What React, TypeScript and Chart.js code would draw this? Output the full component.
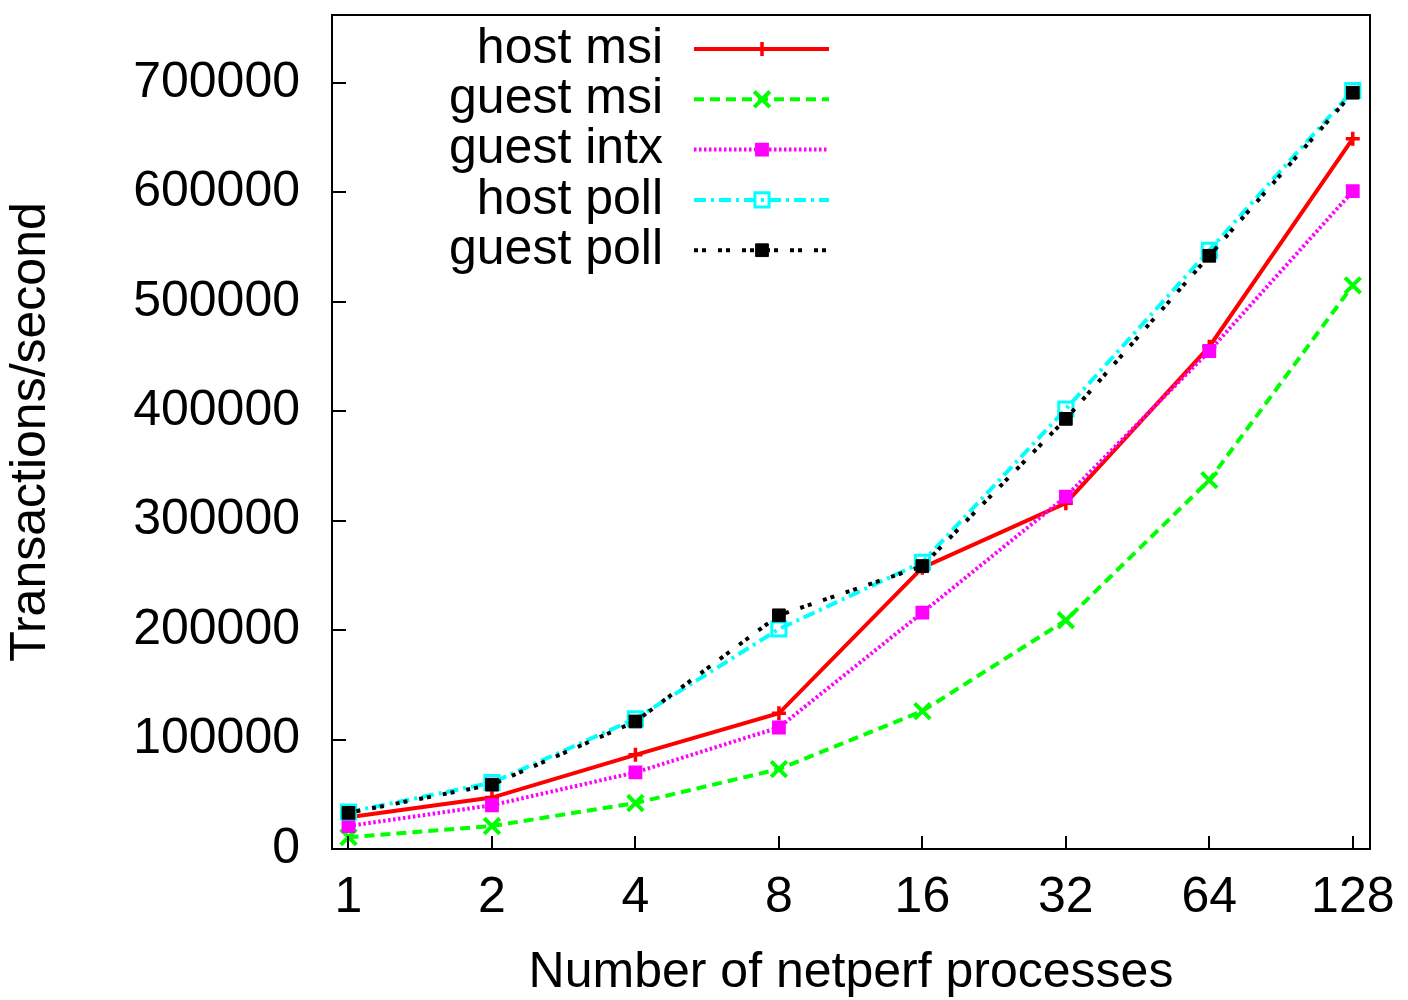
import React, { useEffect, useRef } from 'react';
import { Chart, registerables } from 'chart.js';
import { drawPoint } from 'chart.js/helpers';

Chart.register(...registerables);

// ---- data ----
const categories = ['1', '2', '4', '8', '16', '32', '64', '128'];
const yTickValues = [0, 100000, 200000, 300000, 400000, 500000, 600000, 700000];
const seriesNames = ['host msi', 'guest msi', 'guest intx', 'host poll', 'guest poll'];
const hostMsi = [29000, 47000, 86000, 124000, 257000, 316000, 459000, 649000];
const guestMsi = [10800, 21000, 42000, 73000, 126000, 209000, 337000, 515000];
const guestIntx = [21000, 40000, 70000, 111000, 216000, 322000, 455000, 601000];
const hostPoll = [33800, 60600, 119000, 201000, 262000, 402000, 547000, 693000];
const guestPoll = [33000, 58800, 116500, 213500, 258500, 393000, 542000, 691000];

const FONT = '"Liberation Sans", Arial, Helvetica, sans-serif';

const seriesData = [hostMsi, guestMsi, guestIntx, hostPoll, guestPoll];
const seriesStyles = [
  { color: '#ff0000', dash: [] as number[], point: 'cross', radius: 7, pw: 3.5, fill: 'rgba(0,0,0,0)' },
  { color: '#00ff00', dash: [10, 6], point: 'crossRot', radius: 11, pw: 4, fill: 'rgba(0,0,0,0)' },
  { color: '#ff00ff', dash: [2.5, 2.5], point: 'rect', radius: 8, pw: 2.5, fill: '#ff00ff' },
  { color: '#00ffff', dash: [12, 5, 3, 5], point: 'rect', radius: 10, pw: 3, fill: 'rgba(0,0,0,0)' },
  { color: '#000000', dash: [4, 4, 4, 12], point: 'rect', radius: 9, pw: 1, fill: '#000000' },
];

const framePlugin = {
  id: 'frameTicks',
  afterDraw(chart: any) {
    const ctx = chart.ctx;
    const { left, right, top, bottom } = chart.chartArea;
    const xs = chart.scales.x;
    const ys = chart.scales.y;
    ctx.save();
    ctx.strokeStyle = '#000';
    ctx.lineWidth = 2;
    ctx.setLineDash([]);
    ctx.strokeRect(left, top, right - left, bottom - top);
    ctx.beginPath();
    ys.ticks.forEach((t: any) => {
      const py = Math.round(ys.getPixelForValue(t.value));
      ctx.moveTo(left, py);
      ctx.lineTo(left + 14, py);
    });
    xs.ticks.forEach((t: any) => {
      const px = Math.round(xs.getPixelForValue(t.value));
      ctx.moveTo(px, bottom);
      ctx.lineTo(px, bottom - 13);
    });
    ctx.stroke();

    // legend
    ctx.font = `50px ${FONT}`;
    ctx.textAlign = 'right';
    ctx.textBaseline = 'middle';
    seriesNames.forEach((name, i) => {
      const st = seriesStyles[i];
      const y = 49 + i * 50.3;
      ctx.fillStyle = '#000';
      ctx.fillText(name, 663, y);
      ctx.strokeStyle = st.color;
      ctx.lineWidth = 4;
      ctx.setLineDash(st.dash);
      ctx.beginPath();
      ctx.moveTo(694, y);
      ctx.lineTo(829, y);
      ctx.stroke();
      ctx.setLineDash([]);
      ctx.fillStyle = st.fill;
      ctx.strokeStyle = st.color;
      ctx.lineWidth = st.pw;
      drawPoint(ctx, { pointStyle: st.point as any, radius: st.radius, rotation: 0, borderWidth: st.pw }, 762, y);
    });
    ctx.restore();
  },
};

export default function App() {
  const ref = useRef<HTMLCanvasElement>(null);

  useEffect(() => {
    if (!ref.current) return;
    const datasets = seriesNames.map((name, i) => {
      const st = seriesStyles[i];
      return {
        label: name,
        data: seriesData[i].map((v, k) => ({ x: k, y: v })),
        borderColor: st.color,
        backgroundColor: st.color,
        borderWidth: 4,
        borderDash: st.dash,
        pointStyle: st.point,
        pointRadius: st.radius,
        pointBorderWidth: st.pw,
        pointBorderColor: st.color,
        pointBackgroundColor: st.fill,
        fill: false,
        tension: 0,
        order: 4 - i,
      };
    });
    const chart = new Chart(ref.current, {
      type: 'line',
      data: { datasets } as any,
      plugins: [framePlugin],
      options: {
        animation: false,
        responsive: false,
        maintainAspectRatio: false,
        layout: { padding: { top: 11, right: 38, left: 0, bottom: 0 } },
        plugins: { legend: { display: false }, tooltip: { enabled: false } },
        scales: {
          x: {
            type: 'linear',
            min: -0.115,
            max: 7.12,
            grid: { display: false, drawTicks: false },
            border: { display: false },
            afterBuildTicks: (s: any) => {
              s.ticks = categories.map((_, i) => ({ value: i }));
            },
            afterFit: (s: any) => {
              s.height = 151;
              s.paddingLeft = 0;
              s.paddingRight = 0;
              s.paddingTop = 0;
              s.paddingBottom = 0;
            },
            ticks: {
              autoSkip: false,
              maxRotation: 0,
              padding: 19,
              color: '#000',
              font: { family: FONT, size: 50 },
              callback: (v: any) => categories[v],
            },
            title: {
              display: true,
              text: 'Number of netperf processes',
              color: '#000',
              font: { family: FONT, size: 50, lineHeight: 1 },
              padding: { top: 0, bottom: 2 },
            },
          },
          y: {
            type: 'linear',
            min: 0,
            max: 762000,
            grid: { display: false, drawTicks: false },
            border: { display: false },
            afterBuildTicks: (s: any) => {
              s.ticks = yTickValues.map((v) => ({ value: v }));
            },
            afterFit: (s: any) => {
              s.width = 332;
              s.paddingLeft = 0;
              s.paddingRight = 0;
              s.paddingTop = 0;
              s.paddingBottom = 0;
            },
            ticks: {
              padding: 32,
              color: '#000',
              font: { family: FONT, size: 50 },
              callback: (v: any) => String(v),
            },
            title: {
              display: true,
              text: 'Transactions/second',
              color: '#000',
              font: { family: FONT, size: 50, lineHeight: 1 },
              padding: { top: 6, bottom: 0 },
            },
          },
        },
      } as any,
    });
    return () => chart.destroy();
  }, []);

  return (
    <div style={{ position: 'absolute', left: 0, top: 0, width: 1408, height: 1000, background: '#fff' }}>
      <canvas ref={ref} width={1408} height={1000} style={{ width: 1408, height: 1000, display: 'block' }} />
    </div>
  );
}
